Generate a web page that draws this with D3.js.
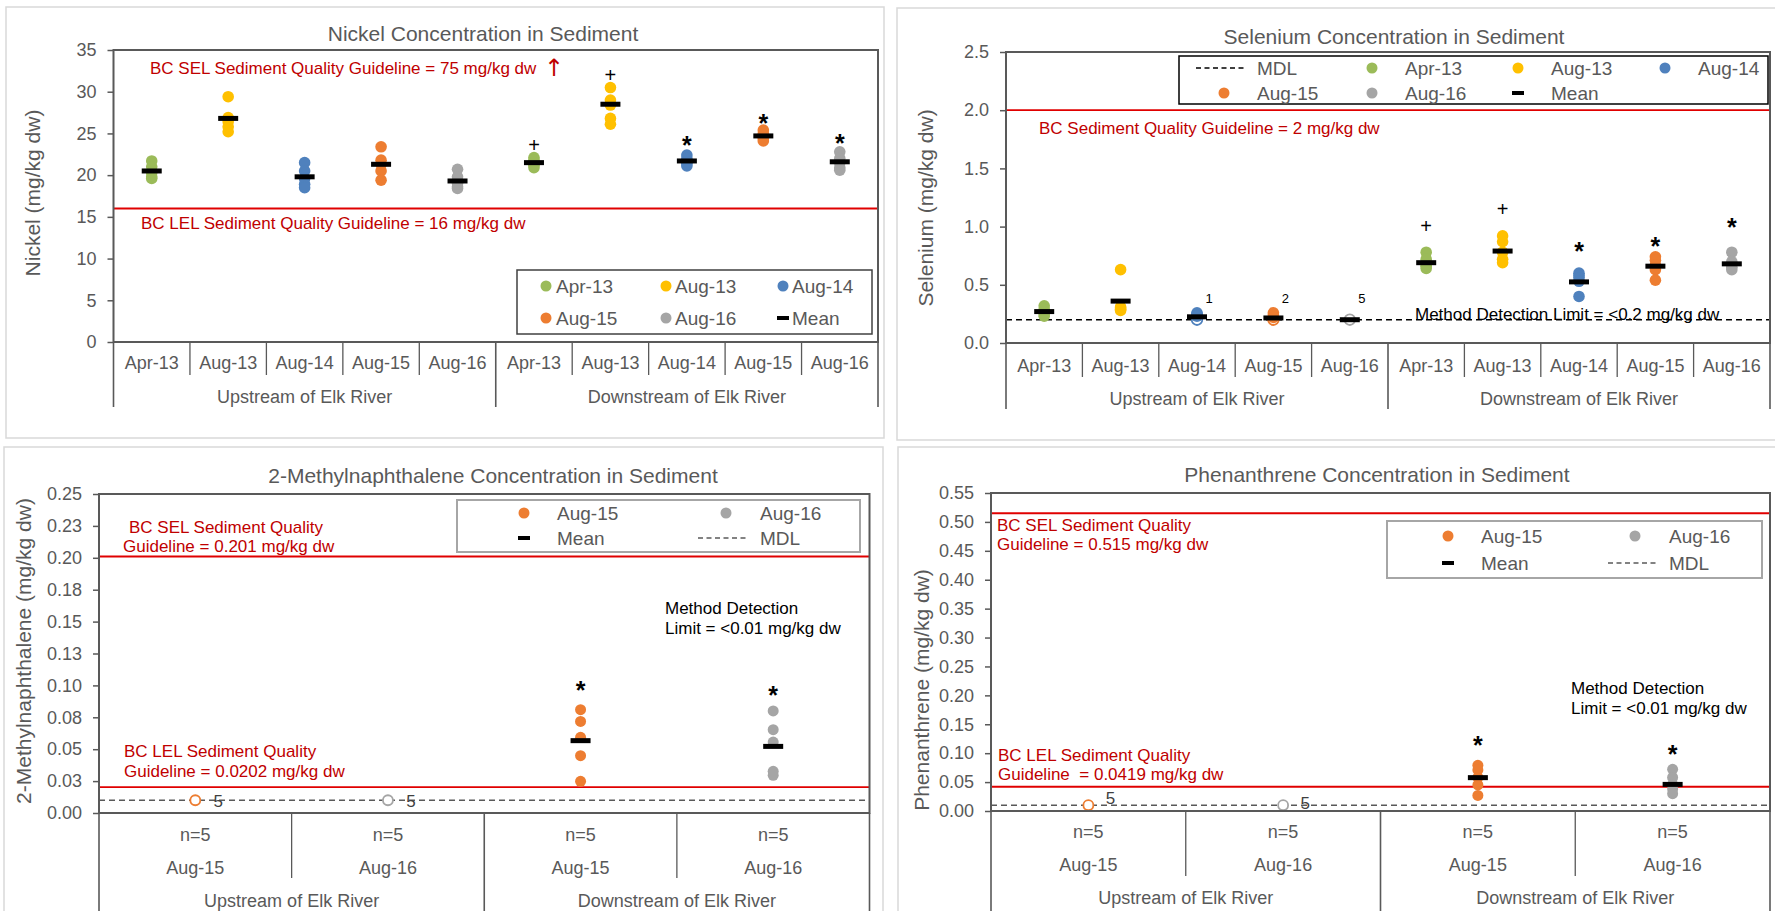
<!DOCTYPE html>
<html>
<head>
<meta charset="utf-8">
<title>Sediment Concentrations Upstream and Downstream of Elk River</title>
<script src="https://cdn.jsdelivr.net/npm/d3@7"></script>
<style>
  html, body { margin: 0; padding: 0; background: #fff; }
  svg { display: block; font-family: "Liberation Sans", Arial, sans-serif; }
  text { white-space: pre; }
</style>
</head>
<body>
<svg id="chart" width="1775" height="911"></svg>
<script>
// ---------------- data ----------------
const reaches = ["Upstream of Elk River", "Downstream of Elk River"];
const surveys = ["Apr-13", "Aug-13", "Aug-14", "Aug-15", "Aug-16"];
const surveyColors = ["#9bbb59", "#ffc000", "#4f81bd", "#ed7d31", "#a5a5a5"];
const pahSurveys = ["Aug-15", "Aug-16"];
const pahColors = ["#ed7d31", "#a5a5a5"];

// Nickel (mg/kg dw): replicate samples per survey
const nickelUp = [
  [21.7, 21.0, 20.3, 19.8, 19.6],
  [29.4, 26.9, 26.4, 25.8, 25.2],
  [21.5, 20.5, 19.6, 18.9, 18.5],
  [23.4, 21.8, 21.3, 20.5, 19.4],
  [20.7, 19.8, 19.0, 18.6, 18.4]
];
const nickelDown = [
  [22.1, 21.8, 21.5, 21.2, 20.9],
  [30.5, 29.0, 28.4, 26.8, 26.1],
  [22.4, 22.0, 21.6, 21.4, 21.1],
  [25.4, 25.0, 24.7, 24.4, 24.1],
  [22.8, 22.0, 21.5, 20.9, 20.6]
];
const nickelUpMean = [20.5, 26.8, 19.8, 21.3, 19.3];
const nickelDownMean = [21.5, 28.5, 21.7, 24.7, 21.6];
const nickelDownFlags = ["+", "+", "*", "*", "*"];
const nickelDownFlagAt = [23.6, 32.0, 24.2, 26.9, 24.5];
const nickelTicks = [0, 5, 10, 15, 20, 25, 30, 35];
const nickelLEL = 16;

// Selenium (mg/kg dw): detected values plus count of non-detects
const seleniumUp = [
  [0.32, 0.29, 0.27, 0.25, 0.23],
  [0.63, 0.31, 0.30, 0.29, 0.28],
  [0.26, 0.25, 0.24, 0.23],
  [0.26, 0.24, 0.22],
  []
];
const seleniumUpND = [0, 0, 1, 2, 5];
const seleniumDown = [
  [0.78, 0.72, 0.67, 0.66, 0.64],
  [0.92, 0.87, 0.78, 0.72, 0.69],
  [0.60, 0.58, 0.56, 0.53, 0.40],
  [0.74, 0.71, 0.67, 0.63, 0.54],
  [0.78, 0.70, 0.67, 0.65, 0.63]
];
const seleniumDownND = [0, 0, 0, 0, 0];
const seleniumUpMean = [0.27, 0.36, 0.225, 0.215, 0.20];
const seleniumDownMean = [0.69, 0.79, 0.525, 0.66, 0.68];
const seleniumDownFlags = ["+", "+", "*", "*", "*"];
const seleniumDownFlagAt = [1.0, 1.15, 0.83, 0.88, 1.04];
const seleniumTicks = [0, 0.5, 1.0, 1.5, 2.0, 2.5];
const seleniumSQG = 2;
const seleniumMDL = 0.2;

// 2-Methylnaphthalene (mg/kg dw)
const methylUp = [[], []];
const methylUpND = [5, 5];
const methylDown = [
  [0.081, 0.0718, 0.0593, 0.0449, 0.0248],
  [0.080, 0.0653, 0.0556, 0.0327, 0.0295]
];
const methylDownND = [0, 0];
const methylDownMean = [0.0567, 0.0522];
const methylDownFlags = ["*", "*"];
const methylDownFlagAt = [0.1006, 0.0967];
const methylN = [[5, 5], [5, 5]];
const methylTicks = [0, 0.025, 0.05, 0.075, 0.1, 0.125, 0.15, 0.175, 0.2, 0.225, 0.25];
const methylTickLabels = ["0.00", "0.03", "0.05", "0.08", "0.10", "0.13", "0.15", "0.18", "0.20", "0.23", "0.25"];
const methylSEL = 0.201;
const methylLEL = 0.0202;
const methylMDL = 0.01;

// Phenanthrene (mg/kg dw)
const phenUp = [[], []];
const phenUpND = [5, 5];
const phenDown = [
  [0.079, 0.071, 0.058, 0.045, 0.027],
  [0.072, 0.058, 0.046, 0.038, 0.030]
];
const phenDownND = [0, 0];
const phenDownMean = [0.0577, 0.046];
const phenDownFlags = ["*", "*"];
const phenDownFlagAt = [0.122, 0.107];
const phenN = [[5, 5], [5, 5]];
const phenTicks = [0, 0.05, 0.1, 0.15, 0.2, 0.25, 0.3, 0.35, 0.4, 0.45, 0.5, 0.55];
const phenSEL = 0.515;
const phenLEL = 0.0419;
const phenMDL = 0.01;

// ---------------- drawing ----------------
const svg = d3.select("#chart");
const AXIS = "#595959";
const TEXT = "#595959";
const RED_LINE = "#e00000";
const RED_TEXT = "#c00000";

function panel(cfg) {
  const g = svg.append("g");

  // panel frame
  g.append("rect")
    .attr("x", cfg.box[0]).attr("y", cfg.box[1])
    .attr("width", cfg.box[2] - cfg.box[0]).attr("height", cfg.box[3] - cfg.box[1])
    .attr("fill", "#fff").attr("stroke", "#d9d9d9").attr("stroke-width", 1.5);

  const nCat = cfg.cats.length;
  const keys = [];
  cfg.groups.forEach((gr, gi) => cfg.cats.forEach((c, ci) => keys.push(gi + "|" + ci)));
  const x = d3.scaleBand().domain(keys).range([cfg.left, cfg.right]).padding(0);
  const bw = x.bandwidth();
  const cx = (gi, ci) => x(gi + "|" + ci) + bw / 2;
  const y = d3.scaleLinear().domain(cfg.yDomain).range([cfg.bottom, cfg.top]);

  // title
  g.append("text").attr("x", cfg.titleX).attr("y", cfg.titleY)
    .attr("text-anchor", "middle").attr("dominant-baseline", "central")
    .attr("font-size", 21).attr("fill", TEXT).text(cfg.title);

  // y axis
  const yAxis = d3.axisLeft(y).tickValues(cfg.ticks)
    .tickFormat((d, i) => cfg.tickLabels[i])
    .tickSizeInner(6).tickSizeOuter(0).tickPadding(11);
  const ya = g.append("g").attr("transform", `translate(${cfg.left},0)`).call(yAxis);
  ya.select(".domain").remove();
  ya.selectAll(".tick line").attr("stroke", AXIS).attr("stroke-width", 1.5);
  ya.selectAll(".tick text").attr("fill", TEXT).attr("font-size", 18)
    .attr("font-family", '"Liberation Sans", Arial, sans-serif');

  // y axis title
  g.append("text")
    .attr("transform", `translate(${cfg.yTitleX},${cfg.yTitleY}) rotate(-90)`)
    .attr("text-anchor", "middle").attr("dominant-baseline", "central")
    .attr("font-size", 21).attr("fill", TEXT).text(cfg.yTitle);

  // guideline lines
  cfg.guidelines.forEach(v => {
    g.append("line").attr("x1", cfg.left).attr("x2", cfg.right)
      .attr("y1", y(v)).attr("y2", y(v))
      .attr("stroke", RED_LINE).attr("stroke-width", 1.8);
  });
  // guideline labels (an optional arrow is drawn a little larger)
  cfg.redTexts.forEach(t => {
    const tx = g.append("text").attr("x", t.x).attr("y", t.y).attr("dominant-baseline", "central")
      .attr("font-size", 17).attr("fill", RED_TEXT);
    tx.append("tspan").text(t.text);
    if (t.arrow) tx.append("tspan").attr("font-size", 24).attr("font-family", "DejaVu Sans").text(" " + t.arrow);
  });
  // method detection notes
  cfg.notes.forEach(t => {
    g.append("text").attr("x", t.x).attr("y", t.y).attr("dominant-baseline", "central")
      .attr("font-size", 17).attr("fill", "#000").text(t.text);
  });

  // detection limit line
  if (cfg.mdl != null) {
    g.append("line").attr("x1", cfg.left).attr("x2", cfg.right)
      .attr("y1", y(cfg.mdl)).attr("y2", y(cfg.mdl))
      .attr("stroke", cfg.mdlColor).attr("stroke-width", 1.6)
      .attr("stroke-dasharray", "6,4");
  }

  // samples
  cfg.groups.forEach((gr, gi) => {
    cfg.cats.forEach((c, ci) => {
      const col = cfg.colors[ci];
      const px = cx(gi, ci);
      const nd = cfg.nd[gi][ci];
      if (nd > 0) {
        g.append("circle").attr("cx", px).attr("cy", y(cfg.mdl)).attr("r", cfg.r - 0.5)
          .attr("fill", "#fff").attr("stroke", col).attr("stroke-width", 1.8);
        const off = cfg.ndOffset(gi, ci);
        g.append("text").attr("x", px + off[0]).attr("y", y(cfg.mdl) + off[1])
          .attr("text-anchor", "middle").attr("dominant-baseline", "central")
          .attr("font-size", cfg.ndFont).attr("fill", cfg.ndColor).text(nd);
      }
      g.selectAll(null).data(cfg.values[gi][ci]).enter().append("circle")
        .attr("cx", px).attr("cy", d => y(d)).attr("r", cfg.r).attr("fill", col);
      const m = cfg.means[gi][ci];
      if (m != null) {
        g.append("rect").attr("x", px - 10).attr("y", y(m) - 2.5)
          .attr("width", 20).attr("height", 5).attr("fill", "#000");
      }
      const f = cfg.flags[gi][ci];
      if (f) {
        const fs = f.sym === "*" ? 25 : 20;
        const shift = f.sym === "*" ? 0.56 : 0.34;
        g.append("text").attr("x", px).attr("y", y(f.at) + fs * shift)
          .attr("text-anchor", "middle").attr("font-size", fs)
          .attr("font-weight", f.sym === "*" ? "bold" : "normal")
          .attr("fill", "#000").text(f.sym);
      }
    });
  });

  // plot frame
  g.append("rect").attr("x", cfg.left).attr("y", cfg.top)
    .attr("width", cfg.right - cfg.left).attr("height", cfg.bottom - cfg.top)
    .attr("fill", "none").attr("stroke", AXIS).attr("stroke-width", 2);

  // category axis: separators and labels
  for (let i = 0; i <= keys.length; i++) {
    const xx = cfg.left + i * bw;
    const isGroup = i % nCat === 0;
    g.append("line").attr("x1", xx).attr("x2", xx)
      .attr("y1", cfg.bottom).attr("y2", isGroup ? cfg.groupEnd : cfg.innerEnd)
      .attr("stroke", AXIS).attr("stroke-width", isGroup ? 1.6 : 1.3);
  }
  cfg.groups.forEach((gr, gi) => {
    cfg.cats.forEach((c, ci) => {
      cfg.catRows.forEach(row => {
        g.append("text").attr("x", cx(gi, ci)).attr("y", row.y)
          .attr("text-anchor", "middle").attr("dominant-baseline", "central")
          .attr("font-size", 18).attr("fill", TEXT).text(row.text(gi, ci));
      });
    });
    const gx = (x(gi + "|0") + x(gi + "|" + (nCat - 1)) + bw) / 2;
    g.append("text").attr("x", gx).attr("y", cfg.groupY)
      .attr("text-anchor", "middle").attr("dominant-baseline", "central")
      .attr("font-size", 18).attr("fill", TEXT).text(gr);
  });

  // legend
  const L = cfg.legend;
  g.append("rect").attr("x", L.box[0]).attr("y", L.box[1])
    .attr("width", L.box[2] - L.box[0]).attr("height", L.box[3] - L.box[1])
    .attr("fill", "#fff").attr("stroke", L.stroke).attr("stroke-width", L.strokeWidth);
  L.items.forEach(it => {
    if (it.type === "dot") {
      g.append("circle").attr("cx", it.x).attr("cy", it.y).attr("r", 5.5).attr("fill", it.color);
    } else if (it.type === "bar") {
      g.append("rect").attr("x", it.x - 6).attr("y", it.y - 2).attr("width", 12).attr("height", 4).attr("fill", "#000");
    } else {
      g.append("line").attr("x1", it.x - 25).attr("x2", it.x + 25).attr("y1", it.y).attr("y2", it.y)
        .attr("stroke", it.color).attr("stroke-width", 1.6).attr("stroke-dasharray", "5,3.5");
    }
    g.append("text").attr("x", it.tx).attr("y", it.y).attr("dominant-baseline", "central")
      .attr("font-size", 19).attr("fill", TEXT).text(it.label);
  });
}

const flagsOf = (syms, at) => syms.map((s, i) => ({ sym: s, at: at[i] }));

// Nickel
panel({
  box: [6, 7, 884, 438],
  left: 113.5, right: 878, top: 50, bottom: 342,
  title: "Nickel Concentration in Sediment", titleX: 483, titleY: 33,
  yDomain: [0, 35], ticks: nickelTicks, tickLabels: nickelTicks.map(String),
  yTitle: "Nickel (mg/kg dw)", yTitleX: 32, yTitleY: 193,
  groups: reaches, cats: surveys, colors: surveyColors, r: 5.8,
  values: [nickelUp, nickelDown], nd: [[0, 0, 0, 0, 0], [0, 0, 0, 0, 0]],
  means: [nickelUpMean, nickelDownMean],
  flags: [[null, null, null, null, null], flagsOf(nickelDownFlags, nickelDownFlagAt)],
  guidelines: [nickelLEL],
  redTexts: [
    { x: 150, y: 68, text: "BC SEL Sediment Quality Guideline = 75 mg/kg dw", arrow: "\u2191" },
    { x: 141, y: 223, text: "BC LEL Sediment Quality Guideline = 16 mg/kg dw" }
  ],
  notes: [],
  mdl: null,
  catRows: [{ y: 363, text: (gi, ci) => surveys[ci] }],
  groupY: 397, innerEnd: 375, groupEnd: 407,
  legend: {
    box: [517, 270, 872, 334], stroke: "#404040", strokeWidth: 1.5,
    items: [
      { type: "dot", color: surveyColors[0], x: 546, tx: 556, y: 286, label: "Apr-13" },
      { type: "dot", color: surveyColors[1], x: 666, tx: 675, y: 286, label: "Aug-13" },
      { type: "dot", color: surveyColors[2], x: 783, tx: 792, y: 286, label: "Aug-14" },
      { type: "dot", color: surveyColors[3], x: 546, tx: 556, y: 318, label: "Aug-15" },
      { type: "dot", color: surveyColors[4], x: 666, tx: 675, y: 318, label: "Aug-16" },
      { type: "bar", x: 783, tx: 792, y: 318, label: "Mean" }
    ]
  }
});

// Selenium
panel({
  box: [897, 8, 1790, 440],
  left: 1006, right: 1770, top: 52, bottom: 343,
  title: "Selenium Concentration in Sediment", titleX: 1394, titleY: 36,
  yDomain: [0, 2.5], ticks: seleniumTicks, tickLabels: seleniumTicks.map(d3.format(".1f")),
  yTitle: "Selenium (mg/kg dw)", yTitleX: 925, yTitleY: 208,
  groups: reaches, cats: surveys, colors: surveyColors, r: 5.8,
  values: [seleniumUp, seleniumDown], nd: [seleniumUpND, seleniumDownND],
  means: [seleniumUpMean, seleniumDownMean],
  flags: [[null, null, null, null, null], flagsOf(seleniumDownFlags, seleniumDownFlagAt)],
  guidelines: [seleniumSQG],
  redTexts: [{ x: 1039, y: 128, text: "BC Sediment Quality Guideline = 2 mg/kg dw" }],
  notes: [{ x: 1415, y: 314, text: "Method Detection Limit = <0.2 mg/kg dw" }],
  mdl: seleniumMDL, mdlColor: "#000",
  ndOffset: () => [12, -21], ndFont: 13, ndColor: "#000",
  catRows: [{ y: 366, text: (gi, ci) => surveys[ci] }],
  groupY: 399, innerEnd: 377, groupEnd: 409,
  legend: {
    box: [1179, 56, 1768, 104], stroke: "#000", strokeWidth: 1.5,
    items: [
      { type: "dash", color: "#000", x: 1221, tx: 1257, y: 68, label: "MDL" },
      { type: "dot", color: surveyColors[0], x: 1372, tx: 1405, y: 68, label: "Apr-13" },
      { type: "dot", color: surveyColors[1], x: 1518, tx: 1551, y: 68, label: "Aug-13" },
      { type: "dot", color: surveyColors[2], x: 1665, tx: 1698, y: 68, label: "Aug-14" },
      { type: "dot", color: surveyColors[3], x: 1224, tx: 1257, y: 93, label: "Aug-15" },
      { type: "dot", color: surveyColors[4], x: 1372, tx: 1405, y: 93, label: "Aug-16" },
      { type: "bar", x: 1518, tx: 1551, y: 93, label: "Mean" }
    ]
  }
});

// 2-Methylnaphthalene
panel({
  box: [4, 447, 883, 925],
  left: 99, right: 869.5, top: 494, bottom: 813,
  title: "2-Methylnaphthalene Concentration in Sediment", titleX: 493, titleY: 475,
  yDomain: [0, 0.25], ticks: methylTicks, tickLabels: methylTickLabels,
  yTitle: "2-Methylnaphthalene (mg/kg dw)", yTitleX: 23, yTitleY: 651,
  groups: reaches, cats: pahSurveys, colors: pahColors, r: 5.5,
  values: [methylUp, methylDown], nd: [methylUpND, methylDownND],
  means: [[null, null], methylDownMean],
  flags: [[null, null], flagsOf(methylDownFlags, methylDownFlagAt)],
  guidelines: [methylSEL, methylLEL],
  redTexts: [
    { x: 129, y: 527, text: "BC SEL Sediment Quality" },
    { x: 123, y: 546, text: "Guideline = 0.201 mg/kg dw" },
    { x: 124, y: 751, text: "BC LEL Sediment Quality" },
    { x: 124, y: 771, text: "Guideline = 0.0202 mg/kg dw" }
  ],
  notes: [
    { x: 665, y: 608, text: "Method Detection" },
    { x: 665, y: 628, text: "Limit = <0.01 mg/kg dw" }
  ],
  mdl: methylMDL, mdlColor: "#595959",
  ndOffset: () => [23, 1], ndFont: 17, ndColor: "#404040",
  catRows: [
    { y: 835, text: (gi, ci) => "n=" + methylN[gi][ci] },
    { y: 868, text: (gi, ci) => pahSurveys[ci] }
  ],
  groupY: 901, innerEnd: 878, groupEnd: 911,
  legend: {
    box: [457, 500, 860, 552], stroke: "#a6a6a6", strokeWidth: 2,
    items: [
      { type: "dot", color: pahColors[0], x: 524, tx: 557, y: 513, label: "Aug-15" },
      { type: "dot", color: pahColors[1], x: 726, tx: 760, y: 513, label: "Aug-16" },
      { type: "bar", x: 524, tx: 557, y: 538, label: "Mean" },
      { type: "dash", color: "#595959", x: 723, tx: 760, y: 538, label: "MDL" }
    ]
  }
});

// Phenanthrene
panel({
  box: [898, 447, 1790, 925],
  left: 991, right: 1770, top: 493, bottom: 811,
  title: "Phenanthrene Concentration in Sediment", titleX: 1377, titleY: 474,
  yDomain: [0, 0.55], ticks: phenTicks, tickLabels: phenTicks.map(d3.format(".2f")),
  yTitle: "Phenanthrene (mg/kg dw)", yTitleX: 921, yTitleY: 690,
  groups: reaches, cats: pahSurveys, colors: pahColors, r: 5.5,
  values: [phenUp, phenDown], nd: [phenUpND, phenDownND],
  means: [[null, null], phenDownMean],
  flags: [[null, null], flagsOf(phenDownFlags, phenDownFlagAt)],
  guidelines: [phenSEL, phenLEL],
  redTexts: [
    { x: 997, y: 525, text: "BC SEL Sediment Quality" },
    { x: 997, y: 544, text: "Guideline = 0.515 mg/kg dw" },
    { x: 998, y: 755, text: "BC LEL Sediment Quality" },
    { x: 998, y: 774, text: "Guideline  = 0.0419 mg/kg dw" }
  ],
  notes: [
    { x: 1571, y: 688, text: "Method Detection" },
    { x: 1571, y: 708, text: "Limit = <0.01 mg/kg dw" }
  ],
  mdl: phenMDL, mdlColor: "#595959",
  ndOffset: (gi, ci) => [22, ci === 0 ? -7 : -2], ndFont: 17, ndColor: "#404040",
  catRows: [
    { y: 832, text: (gi, ci) => "n=" + phenN[gi][ci] },
    { y: 865, text: (gi, ci) => pahSurveys[ci] }
  ],
  groupY: 898, innerEnd: 876, groupEnd: 911,
  legend: {
    box: [1387, 521, 1762, 578], stroke: "#a6a6a6", strokeWidth: 2,
    items: [
      { type: "dot", color: pahColors[0], x: 1448, tx: 1481, y: 536, label: "Aug-15" },
      { type: "dot", color: pahColors[1], x: 1635, tx: 1669, y: 536, label: "Aug-16" },
      { type: "bar", x: 1448, tx: 1481, y: 563, label: "Mean" },
      { type: "dash", color: "#595959", x: 1633, tx: 1669, y: 563, label: "MDL" }
    ]
  }
});
</script>
</body>
</html>
